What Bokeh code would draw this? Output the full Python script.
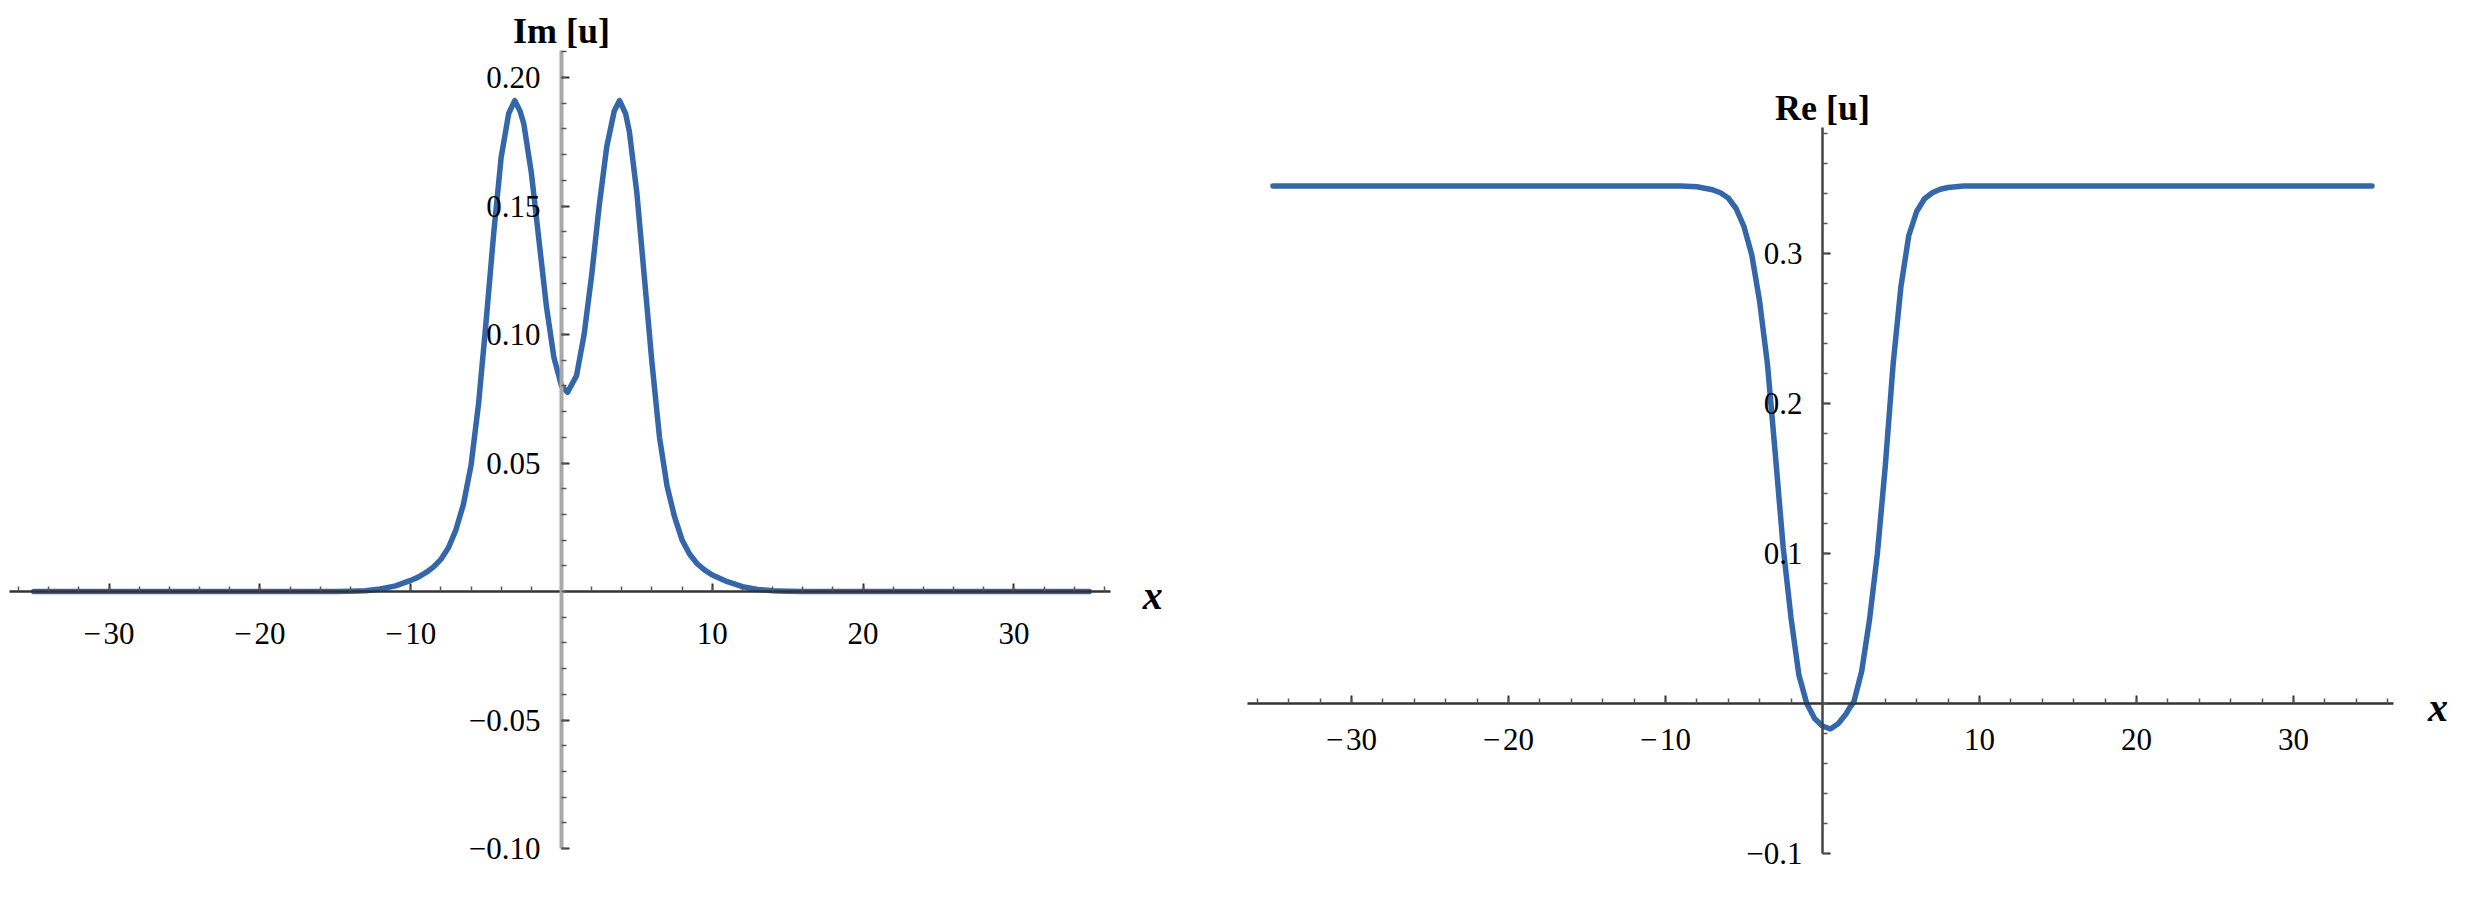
from bokeh.plotting import figure
from bokeh.models import FixedTicker, Label, Range1d
from bokeh.layouts import row
from bokeh.embed import file_html
from bokeh.resources import INLINE

# ---- data ----
im_x = [-35, -20, -16, -15, -14, -13, -12, -11, -10, -9.5, -9, -8.5, -8, -7.5, -7, -6.5, -6,
        -5.5, -5, -4.5, -4, -3.5, -3.1, -2.75, -2.5, -2, -1.5, -1, -0.5, 0, 0.4, 1, 1.5, 2,
        2.5, 3, 3.5, 3.85, 4.25, 4.5, 5, 5.5, 6, 6.5, 7, 7.5, 8, 8.5, 9, 9.5, 10, 11, 12,
        13, 14, 15, 16, 20, 35]
im_y = [0, 0, 0, 0, 0.0001, 0.0003, 0.001, 0.0022, 0.0043, 0.0056, 0.0073, 0.0095, 0.0125,
        0.017, 0.024, 0.034, 0.049, 0.073, 0.105, 0.139, 0.169, 0.186, 0.191, 0.187, 0.182,
        0.163, 0.137, 0.111, 0.091, 0.080, 0.0775, 0.084, 0.100, 0.123, 0.150, 0.173, 0.187,
        0.191, 0.186, 0.179, 0.155, 0.122, 0.089, 0.060, 0.041, 0.029, 0.020, 0.0145, 0.0108,
        0.0083, 0.0064, 0.0038, 0.0019, 0.0008, 0.0003, 0.0001, 0, 0, 0]

re_x = [-35, -10, -9, -8, -7, -6.5, -6, -5.5, -5, -4.5, -4, -3.5, -3, -2.5, -2, -1.5, -1,
        -0.5, 0, 0.5, 1, 1.5, 1.75, 2, 2.5, 3, 3.5, 4, 4.5, 5, 5.5, 6, 6.5, 7, 7.5, 8, 9, 10, 35]
re_y = [0.345, 0.345, 0.345, 0.3445, 0.3425, 0.3405, 0.337, 0.330, 0.318, 0.299, 0.268, 0.226,
        0.166, 0.104, 0.057, 0.019, 0.000, -0.010, -0.015, -0.017, -0.0135, -0.007, -0.0025,
        0.001, 0.0215, 0.056, 0.100, 0.158, 0.226, 0.278, 0.312, 0.328, 0.3365, 0.3405, 0.3428,
        0.344, 0.345, 0.345, 0.345]

x_major = [-30, -20, -10, 10, 20, 30]
x_labels = ["\u2212\u200a30", "\u2212\u200a20", "\u2212\u200a10", "10", "20", "30"]
x_minor = [-36, -34, -32, -30, -28, -26, -24, -22, -20, -18, -16, -14, -12, -10, -8, -6, -4, -2,
           2, 4, 6, 8, 10, 12, 14, 16, 18, 20, 22, 24, 26, 28, 30, 32, 34, 36]

im_major = [-0.10, -0.05, 0.05, 0.10, 0.15, 0.20]
im_labels = ["\u22120.10", "\u22120.05", "0.05", "0.10", "0.15", "0.20"]
im_minor = [round(-0.10 + 0.01 * i, 2) for i in range(32)]

re_major = [-0.1, 0.1, 0.2, 0.3]
re_labels = ["\u22120.1", "0.1", "0.2", "0.3"]
re_minor = [round(-0.10 + 0.02 * i, 2) for i in range(25)]

LINE = "#3466aa"
FONT = "Liberation Serif"


def style_axis(ax, color, width, standoff):
    ax.fixed_location = 0
    ax.axis_line_color = color
    ax.axis_line_width = width
    ax.major_tick_in = 8
    ax.major_tick_out = 0
    ax.minor_tick_in = 5
    ax.minor_tick_out = 0
    ax.major_tick_line_color = "#333333"
    ax.minor_tick_line_color = "#555555"
    ax.major_tick_line_width = 2
    ax.minor_tick_line_width = 1.5
    ax.major_label_text_font = FONT
    ax.major_label_text_font_size = "31px"
    ax.major_label_text_color = "black"
    ax.major_label_standoff = standoff


def make_panel(width, xr, yr, xs, ys, ymajor, ylabels, yminor, ybounds, ylabel,
               ycolor, ywidth, xstand, ystand, xlab_x, xlab_off):
    p = figure(width=width, height=888, x_range=Range1d(*xr), y_range=Range1d(*yr),
               output_backend="svg", toolbar_location=None, min_border=0, title=None)
    p.grid.visible = False
    p.outline_line_color = None
    p.background_fill_color = "white"
    p.border_fill_color = "white"

    xa = p.xaxis[0]
    style_axis(xa, "#333333", 2.5, xstand)
    xa.bounds = (-36.6, 36.4)
    xa.ticker = FixedTicker(ticks=x_major, minor_ticks=x_minor)
    xa.major_label_overrides = dict(zip(x_major, x_labels))

    ya = p.yaxis[0]
    style_axis(ya, ycolor, ywidth, ystand)
    ya.bounds = ybounds
    ya.ticker = FixedTicker(ticks=ymajor, minor_ticks=yminor)
    ya.major_label_overrides = dict(zip(ymajor, ylabels))

    p.line(xs, ys, line_color=LINE, line_width=5.5, line_join="round", line_cap="round")

    p.add_layout(Label(x=0, y=ybounds[1], text=ylabel, text_align="center",
                       text_baseline="bottom", text_font=FONT, text_font_style="bold",
                       text_font_size="36px", text_color="black"))
    p.add_layout(Label(x=xlab_x, y=0, y_offset=xlab_off, text="x", text_align="center",
                       text_baseline="middle", text_font=FONT,
                       text_font_style="bold italic", text_font_size="40px",
                       text_color="black"))
    return p


p1 = make_panel(1220, (-37.2, 43.7), (-0.11556, 0.22996), im_x, im_y,
                im_major, im_labels, im_minor, (-0.10, 0.2105), "Im [u]",
                "#a8a8a8", 4, 24, 21, 39.2, -4)
p2 = make_panel(1232, (-38.34, 40.13), (-0.12333, 0.46867), re_x, re_y,
                re_major, re_labels, re_minor, (-0.10, 0.384), "Re [u]",
                "#444444", 2.5, 18, 20, 39.2, -4)

layout = row(p1, p2)
open("out.html", "w").write(file_html(layout, INLINE))
